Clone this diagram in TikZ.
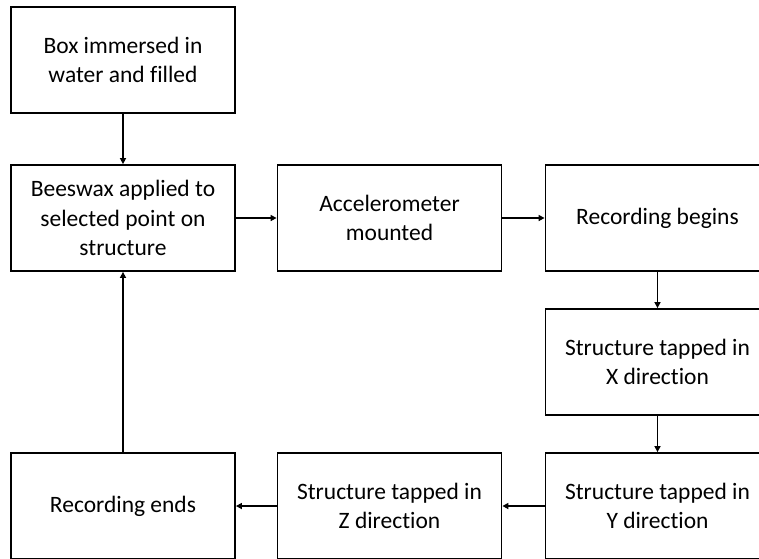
\documentclass[tikz,border=0pt]{standalone}
\usepackage{fontspec}
\setmainfont[Ligatures=NoCommon]{Carlito}
\usetikzlibrary{arrows.meta}
\begin{document}
\begin{tikzpicture}[x=1pt,y=-1pt,
  stepbox/.style={draw=black,line width=1.8pt,minimum width=224pt,minimum height=106pt,
    align=center,inner sep=0pt,font=\fontsize{23.5}{29.5}\selectfont},
  conn/.style={draw=black,line width=1.5pt,-{Triangle[length=6pt,width=6pt]}}]
\useasboundingbox (0,0) rectangle (759,558);
\clip (0,0) rectangle (759,558);
\fill[white] (0,0) rectangle (759,558);
\node[stepbox] (b1) at (123,60) {Box immersed in\\water and filled};
\node[stepbox] (b2) at (123,218) {Beeswax applied to\\selected point on\\structure};
\node[stepbox] (b3) at (389.5,218) {Accelerometer\\mounted};
\node[stepbox] (b4) at (657.5,218) {Recording begins};
\node[stepbox] (b5) at (657.5,362) {Structure tapped in\\X direction};
\node[stepbox] (b6) at (657.5,506) {Structure tapped in\\Y direction};
\node[stepbox] (b7) at (389.5,506) {Structure tapped in\\Z direction};
\node[stepbox] (b8) at (123,506) {Recording ends};
\draw[conn] (b1) -- (b2);
\draw[conn] (b2) -- (b3);
\draw[conn] (b3) -- (b4);
\draw[conn] (b4) -- (b5);
\draw[conn] (b5) -- (b6);
\draw[conn] (b6) -- (b7);
\draw[conn] (b7) -- (b8);
\draw[conn] (b8) -- (b2);
\end{tikzpicture}
\end{document}
